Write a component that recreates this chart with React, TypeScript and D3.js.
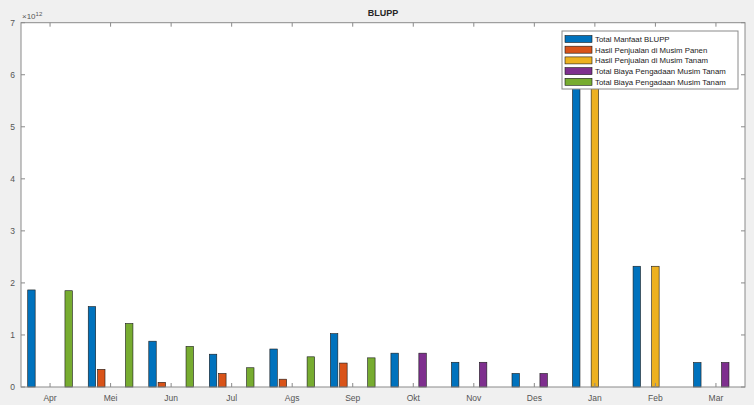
import React from "react";
import * as d3 from "d3";

const months = ["Apr", "Mei", "Jun", "Jul", "Ags", "Sep", "Okt", "Nov", "Des", "Jan", "Feb", "Mar"];
const seriesNames = [
  "Total Manfaat BLUPP",
  "Hasil Penjualan di Musim Panen",
  "Hasil Penjualan di Musim Tanam",
  "Total Biaya Pengadaan Musim Tanam",
  "Total Biaya Pengadaan Musim Tanam",
];
const colors = ["#0072BD", "#D95319", "#EDB120", "#7E2F8E", "#77AC30"];
// values in units of 1e12
const totalManfaat = [1.865, 1.545, 0.88, 0.63, 0.73, 1.025, 0.65, 0.475, 0.26, 6.6, 2.32, 0.47];
const hasilPanen = [0, 0.34, 0.09, 0.26, 0.15, 0.46, 0, 0, 0, 0, 0, 0];
const hasilTanam = [0, 0, 0, 0, 0, 0, 0, 0, 0, 6.6, 2.32, 0];
const biayaTanam = [0, 0, 0, 0, 0, 0, 0.65, 0.475, 0.26, 0, 0, 0.47];
const biayaTanam2 = [1.85, 1.22, 0.78, 0.37, 0.58, 0.56, 0, 0, 0, 0, 0, 0];
const yTicks = [0, 1, 2, 3, 4, 5, 6, 7];

const series = [totalManfaat, hasilPanen, hasilTanam, biayaTanam, biayaTanam2];

export default function App() {
  const W = 754, H = 405;
  const left = 21, right = 745, top = 22.7, bottom = 387;
  const x = d3.scaleLinear().domain([0.52, 12.48]).range([left, right]);
  const y = d3.scaleLinear().domain([0, 7]).range([bottom, top]);
  const groupW = 0.769;
  const step = groupW / 5;
  const barW = step * 0.8;
  const font = "'Liberation Sans', Arial, Helvetica, sans-serif";
  const axisColor = "#8a8a8a";
  const labelColor = "#555555";
  const tickLen = 4;

  const lx = 562, ly = 31, lw = 176, lh = 58;

  return (
    <svg width={W} height={H} style={{ position: "absolute", left: 0, top: 0, background: "#f0f0f0" }} fontFamily={font}>
      <rect x={0} y={0} width={W} height={H} fill="#f0f0f0" />
      <rect x={left} y={top} width={right - left} height={bottom - top} fill="#ffffff" />
      {/* bars */}
      {series.map((vals, s) =>
        vals.map((v, i) => {
          const cx = x(i + 1) + (s - 2) * step * (x(1) - x(0));
          const bw = barW * (x(1) - x(0));
          const yt = y(Math.min(v, 7));
          return (
            <rect key={`${s}-${i}`} x={cx - bw / 2} y={yt} width={bw} height={Math.max(0, y(0) - yt)}
              fill={colors[s]} stroke="#1a1a1a" strokeWidth={0.6} />
          );
        })
      )}
      {/* axes box */}
      <rect x={left} y={top} width={right - left} height={bottom - top} fill="none" stroke={axisColor} strokeWidth={1} />
      {/* x ticks */}
      {months.map((m, i) => (
        <g key={m}>
          <line x1={x(i + 1)} x2={x(i + 1)} y1={bottom} y2={bottom - tickLen} stroke={axisColor} />
          <line x1={x(i + 1)} x2={x(i + 1)} y1={top} y2={top + tickLen} stroke={axisColor} />
          <text x={x(i + 1)} y={bottom + 14} fontSize={8.5} fill={labelColor} textAnchor="middle">{m}</text>
        </g>
      ))}
      {/* y ticks */}
      {yTicks.map((t) => (
        <g key={t}>
          <line x1={left} x2={left + tickLen} y1={y(t)} y2={y(t)} stroke={axisColor} />
          <line x1={right} x2={right - tickLen} y1={y(t)} y2={y(t)} stroke={axisColor} />
          <text x={left - 6} y={y(t) + 3} fontSize={8.5} fill={labelColor} textAnchor="end">{t}</text>
        </g>
      ))}
      {/* exponent */}
      <text x={22} y={19} fontSize={8} fill={labelColor}>
        ×10<tspan fontSize={6} dy={-3}>12</tspan>
      </text>
      {/* title */}
      <text x={(left + right) / 2} y={16} fontSize={9} fontWeight="bold" fill="#262626" textAnchor="middle">BLUPP</text>
      {/* legend */}
      <rect x={lx} y={ly} width={lw} height={lh} fill="#ffffff" stroke={axisColor} strokeWidth={1} />
      {seriesNames.map((n, i) => {
        const cy = ly + 8 + i * 10.7;
        return (
          <g key={i}>
            <rect x={lx + 3} y={cy - 3.5} width={27} height={7} fill={colors[i]} stroke="#1a1a1a" strokeWidth={0.6} />
            <text x={lx + 33} y={cy + 2.8} fontSize={7.8} fill="#1a1a1a">{n}</text>
          </g>
        );
      })}
    </svg>
  );
}
